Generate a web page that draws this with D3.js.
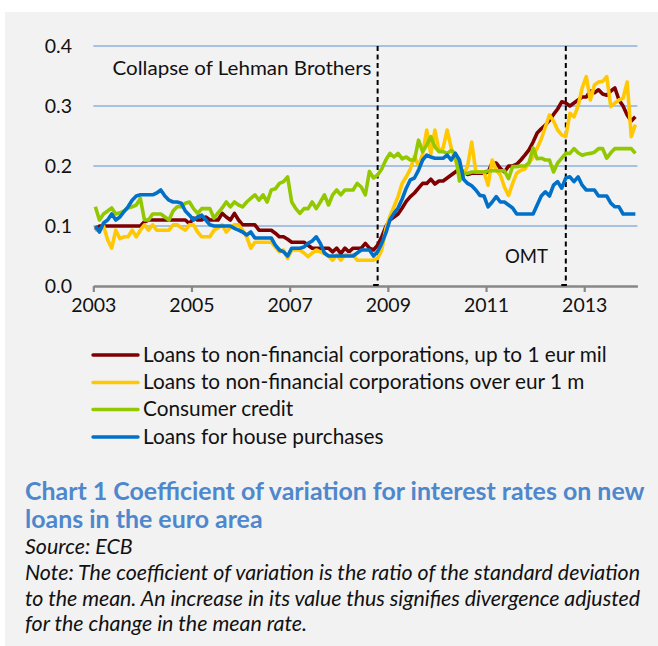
<!DOCTYPE html>
<html><head><meta charset="utf-8">
<script src="https://cdn.jsdelivr.net/npm/d3@7"></script>
<style>
html,body{margin:0;padding:0;background:#fff;}
svg{display:block;}
text{font-family:Lato,"Open Sans",sans-serif;}
</style></head>
<body>
<svg id="chart" width="658" height="646"></svg>
<script>
// ---- data (monthly, Jan 2003 .. Jan 2014) ----
const startYear = 2003;
const xTickLabels = ["2003","2005","2007","2009","2011","2013"];
const yTickValues = [0,0.1,0.2,0.3,0.4];
const seriesNames = [
  "Loans to non-financial corporations, up to 1 eur mil",
  "Loans to non-financial corporations over eur 1 m",
  "Consumer credit",
  "Loans for house purchases"
];
const smallCorp = [
 0.093,0.1,0.1,0.1,0.1,0.1,0.1,0.1,0.1,0.1,
 0.1,0.1,0.107,0.11,0.11,0.11,0.11,0.11,0.11,0.11,
 0.11,0.11,0.11,0.104,0.113,0.11,0.11,0.115,0.11,0.11,
 0.11,0.121,0.115,0.11,0.121,0.11,0.102,0.102,0.102,0.102,
 0.093,0.093,0.093,0.093,0.088,0.082,0.082,0.078,0.073,0.073,
 0.073,0.073,0.068,0.063,0.063,0.063,0.063,0.063,0.057,0.063,
 0.054,0.063,0.057,0.063,0.063,0.063,0.071,0.063,0.06,0.068,
 0.082,0.099,0.11,0.115,0.12,0.13,0.141,0.149,0.155,0.163,
 0.171,0.171,0.178,0.17,0.175,0.175,0.18,0.185,0.19,0.195,
 0.19,0.186,0.188,0.188,0.188,0.188,0.19,0.205,0.205,0.196,
 0.19,0.2,0.2,0.203,0.21,0.218,0.227,0.24,0.255,0.262,
 0.268,0.276,0.286,0.295,0.307,0.305,0.3,0.305,0.31,0.315,
 0.315,0.325,0.322,0.327,0.32,0.318,0.325,0.33,0.31,0.3,
 0.285,0.275,0.282];
const largeCorp = [
 0.093,0.093,0.1,0.077,0.063,0.093,0.079,0.082,0.082,0.093,
 0.082,0.093,0.102,0.093,0.102,0.093,0.093,0.093,0.093,0.102,
 0.102,0.097,0.093,0.102,0.102,0.09,0.082,0.082,0.082,0.093,
 0.097,0.102,0.09,0.097,0.102,0.102,0.093,0.082,0.063,0.073,
 0.073,0.073,0.073,0.073,0.065,0.057,0.06,0.046,0.06,0.06,
 0.06,0.055,0.049,0.055,0.06,0.057,0.054,0.05,0.043,0.052,
 0.043,0.052,0.052,0.052,0.043,0.043,0.043,0.043,0.043,0.046,
 0.06,0.095,0.116,0.132,0.149,0.171,0.182,0.195,0.216,0.2,
 0.22,0.26,0.22,0.26,0.225,0.23,0.26,0.23,0.21,0.19,
 0.185,0.2,0.24,0.19,0.19,0.19,0.168,0.21,0.193,0.185,
 0.165,0.151,0.171,0.188,0.193,0.195,0.205,0.215,0.23,0.245,
 0.265,0.285,0.275,0.26,0.252,0.249,0.288,0.282,0.3,0.33,
 0.349,0.31,0.335,0.34,0.341,0.349,0.299,0.305,0.31,0.313,
 0.34,0.249,0.269];
const consumer = [
 0.132,0.11,0.12,0.125,0.13,0.12,0.122,0.125,0.13,0.132,
 0.135,0.146,0.11,0.11,0.12,0.12,0.12,0.115,0.11,0.125,
 0.132,0.132,0.138,0.14,0.129,0.121,0.129,0.129,0.129,0.113,
 0.122,0.13,0.14,0.132,0.14,0.135,0.132,0.14,0.146,0.152,
 0.143,0.152,0.14,0.16,0.162,0.171,0.174,0.182,0.14,0.129,
 0.121,0.129,0.129,0.14,0.129,0.14,0.152,0.135,0.152,0.16,
 0.152,0.16,0.16,0.16,0.171,0.165,0.152,0.191,0.18,0.185,
 0.195,0.21,0.221,0.215,0.221,0.212,0.215,0.21,0.21,0.243,
 0.224,0.235,0.249,0.232,0.224,0.224,0.221,0.226,0.221,0.175,
 0.188,0.188,0.19,0.19,0.19,0.19,0.192,0.192,0.192,0.192,
 0.192,0.179,0.199,0.199,0.2,0.2,0.205,0.23,0.212,0.213,
 0.21,0.21,0.19,0.205,0.213,0.221,0.221,0.229,0.222,0.218,
 0.22,0.221,0.223,0.229,0.229,0.213,0.222,0.229,0.229,0.229,
 0.229,0.229,0.221];
const housing = [
 0.1,0.09,0.105,0.11,0.12,0.11,0.115,0.124,0.132,0.143,
 0.15,0.152,0.152,0.152,0.152,0.155,0.16,0.15,0.143,0.14,
 0.14,0.138,0.125,0.118,0.11,0.115,0.118,0.11,0.102,0.1,
 0.1,0.1,0.1,0.1,0.096,0.093,0.09,0.085,0.09,0.08,
 0.08,0.08,0.08,0.08,0.068,0.06,0.057,0.05,0.063,0.063,
 0.063,0.065,0.071,0.075,0.082,0.071,0.055,0.05,0.05,0.05,
 0.05,0.05,0.05,0.05,0.055,0.06,0.06,0.06,0.05,0.057,
 0.071,0.088,0.11,0.121,0.13,0.145,0.163,0.177,0.18,0.193,
 0.21,0.218,0.215,0.213,0.213,0.213,0.218,0.21,0.221,0.21,
 0.178,0.171,0.167,0.16,0.151,0.15,0.132,0.14,0.149,0.14,
 0.14,0.135,0.13,0.12,0.12,0.12,0.12,0.12,0.135,0.15,
 0.157,0.15,0.168,0.174,0.163,0.18,0.182,0.174,0.182,0.168,
 0.16,0.16,0.16,0.15,0.15,0.15,0.138,0.132,0.132,0.12,
 0.12,0.12,0.12];
const seriesColors = ["#7f0000","#ffc800","#92c800","#0070c8"];
const eventLabels = ["Collapse of Lehman Brothers","OMT"];
const eventMonths = [69,115]; // Oct 2008, Aug 2012 (months since Jan 2003)

// ---- layout ----
const svg = d3.select("#chart");
svg.append("rect").attr("x",5).attr("y",12).attr("width",653).attr("height",634).attr("fill","#f2f2f2");

const nCat = smallCorp.length;
const x = d3.scaleLinear().domain([0, nCat]).range([93.3, 637.4]);
const y = d3.scaleLinear().domain([0, 0.4]).range([286, 46]);

// gridlines
svg.append("g").selectAll("line").data(yTickValues.filter(d=>d>0)).join("line")
  .attr("x1", x(0)).attr("x2", x(nCat))
  .attr("y1", d=>y(d)).attr("y2", d=>y(d))
  .attr("stroke","#8eb1dc").attr("stroke-width",1.3);

// y axis labels
const yAxis = d3.axisLeft(y).tickValues(yTickValues).tickFormat(d3.format(".1f")).tickSize(0).tickPadding(0);
const gy = svg.append("g").attr("transform","translate(72,0)").call(yAxis);
gy.select(".domain").remove();
gy.selectAll("text").attr("font-size",19.5).attr("fill","#111").attr("dy","0.35em")
  .style("font-family","Lato");

// x axis
const xAxis = d3.axisBottom(x).tickValues(xTickLabels.map((d,i)=>i*24))
  .tickFormat((d,i)=>xTickLabels[i]).tickSize(6).tickSizeOuter(0).tickPadding(6);
const gx = svg.append("g").attr("transform",`translate(0,${y(0)})`).call(xAxis);
gx.select(".domain").attr("stroke","#878787").attr("stroke-width",2.6);
gx.selectAll(".tick line").attr("stroke","#878787").attr("stroke-width",2.2);
gx.selectAll("text").attr("font-size",19.5).attr("fill","#111").style("font-family","Lato");

// event lines
eventMonths.forEach((m,k)=>{
  const ex = x(m+0.5);
  svg.append("line").attr("x1",ex).attr("x2",ex).attr("y1",y(0.4)).attr("y2",y(0)-1)
    .attr("stroke","#000").attr("stroke-width",2).attr("stroke-dasharray","5,3.5");
  svg.append("line").attr("x1",ex-4.5).attr("x2",ex+1).attr("y1",y(0)-1).attr("y2",y(0)-1)
    .attr("stroke","#000").attr("stroke-width",2);
});
svg.append("text").attr("x",112.5).attr("y",74.5).attr("font-size",19.5).attr("fill","#111")
  .attr("textLength",259).attr("lengthAdjust","spacingAndGlyphs").text(eventLabels[0]);
svg.append("text").attr("x",505).attr("y",262.5).attr("font-size",19.5).attr("fill","#111")
  .attr("textLength",43).attr("lengthAdjust","spacingAndGlyphs").text(eventLabels[1]);

// series
const allSeries = [smallCorp, largeCorp, consumer, housing];
const line = d3.line().x((d,i)=>x(i+0.5)).y(d=>y(d));
svg.append("g").selectAll("path").data(allSeries).join("path")
  .attr("d", d=>line(d)).attr("fill","none")
  .attr("stroke",(d,i)=>seriesColors[i]).attr("stroke-width",3.6)
  .attr("stroke-linejoin","round").attr("stroke-linecap","butt");

// legend
const legY = [355, 382.5, 409.5, 437];
const leg = svg.append("g").selectAll("g").data(seriesNames).join("g");
leg.append("line").attr("x1",93).attr("x2",138).attr("y1",(d,i)=>legY[i]).attr("y2",(d,i)=>legY[i])
  .attr("stroke",(d,i)=>seriesColors[i]).attr("stroke-width",3.4).attr("stroke-linecap","round");
const legText = leg.append("text").attr("x",143).attr("y",(d,i)=>legY[i]+6.5)
  .attr("font-size",19).attr("fill","#111").text(d=>d);
{
  const w = legText.nodes()[0].getComputedTextLength();
  legText.attr("font-size",19*464/w);
}

// title and notes
const titleLines = ["Chart 1 Coefficient of variation for interest rates on new","loans in the euro area"];
const noteLines = [
  "Note: The coefficient of variation is the ratio of the standard deviation",
  "to the mean. An increase in its value thus signifies divergence adjusted",
  "for the change in the mean rate."
];
const tt = svg.append("g").selectAll("text").data(titleLines).join("text")
  .attr("x",25).attr("y",(d,i)=>500+i*28).attr("font-size",21).attr("font-weight","bold")
  .attr("fill","#4f87cc").text(d=>d);
{
  const w = tt.nodes()[0].getComputedTextLength();
  tt.attr("font-size",21*620/w);
}
const nt = svg.append("g").selectAll("text").data(noteLines).join("text")
  .attr("x",25).attr("y",(d,i)=>580+i*25.5).attr("font-size",17).attr("font-style","italic")
  .attr("fill","#111").text(d=>d);
let noteFs = 17;
{
  const w = nt.nodes()[0].getComputedTextLength();
  noteFs = 17*615/w;
  nt.attr("font-size",noteFs);
  nt.filter((d,i)=>i<2).attr("textLength",615).attr("lengthAdjust","spacing");
}
svg.append("text").attr("x",25).attr("y",554).attr("font-size",noteFs).attr("font-style","italic")
  .attr("fill","#111").text("Source: ECB");
</script>
</body></html>
